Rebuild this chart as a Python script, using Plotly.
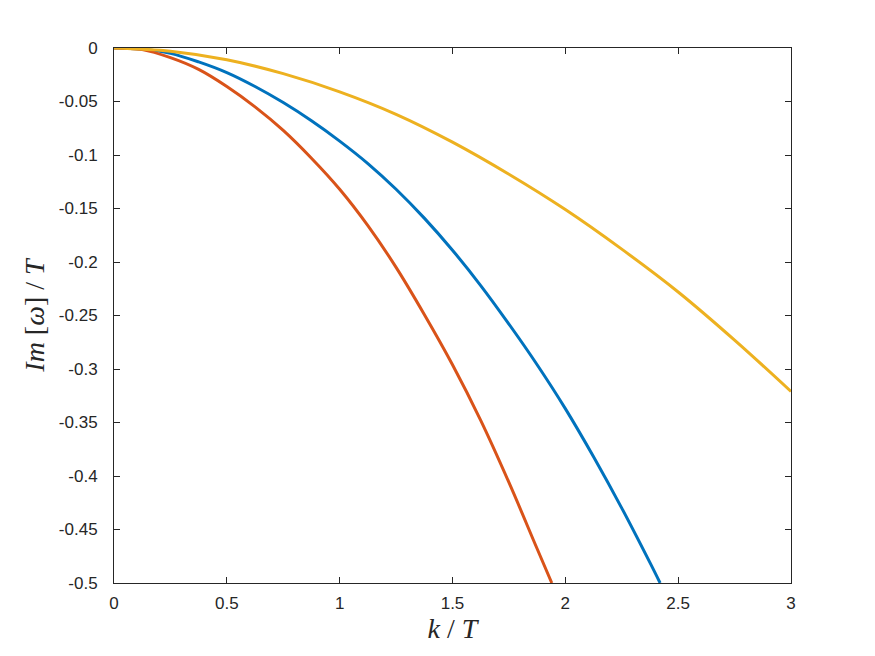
import plotly.graph_objects as go

# Data
k_blue = [0, 0.125, 0.25, 0.375, 0.5, 0.625, 0.75, 0.875, 1.0, 1.125, 1.25, 1.375,
          1.5, 1.625, 1.75, 1.875, 2.0, 2.125, 2.25, 2.375, 2.42]
im_blue = [0, -0.001, -0.005, -0.013, -0.023, -0.036, -0.051, -0.068, -0.087, -0.108,
           -0.132, -0.159, -0.189, -0.222, -0.258, -0.296, -0.337, -0.382, -0.430,
           -0.481, -0.500]

k_red = [0, 0.125, 0.25, 0.375, 0.5, 0.625, 0.75, 0.875, 1.0, 1.125, 1.25, 1.375,
         1.5, 1.625, 1.75, 1.875, 1.94]
im_red = [0, -0.0015, -0.009, -0.020, -0.036, -0.055, -0.077, -0.103, -0.132, -0.166,
          -0.205, -0.249, -0.296, -0.348, -0.406, -0.468, -0.500]

k_yellow = [0, 0.25, 0.5, 0.75, 1.0, 1.25, 1.5, 1.75, 2.0, 2.25, 2.5, 2.75, 3.0]
im_yellow = [0, -0.003, -0.011, -0.024, -0.041, -0.062, -0.088, -0.118, -0.151,
             -0.188, -0.228, -0.273, -0.321]

x_ticks = [0, 0.5, 1, 1.5, 2, 2.5, 3]
x_ticktext = ["0", "0.5", "1", "1.5", "2", "2.5", "3"]
y_ticks = [0, -0.05, -0.1, -0.15, -0.2, -0.25, -0.3, -0.35, -0.4, -0.45, -0.5]
y_ticktext = ["0", "-0.05", "-0.1", "-0.15", "-0.2", "-0.25", "-0.3", "-0.35", "-0.4",
              "-0.45", "-0.5"]

fig = go.Figure()
for kx, vy, col in [(k_blue, im_blue, "#0072BD"),
                    (k_red, im_red, "#D95319"),
                    (k_yellow, im_yellow, "#EDB120")]:
    fig.add_trace(go.Scatter(x=kx, y=vy, mode="lines",
                             line=dict(color=col, width=3, shape="spline", smoothing=1.0),
                             showlegend=False, cliponaxis=True))

axis_common = dict(showgrid=False, zeroline=False, showline=True, linecolor="#262626",
                   linewidth=1, mirror="ticks", ticks="inside", ticklen=6,
                   tickcolor="#262626", tickwidth=1,
                   tickfont=dict(family="Liberation Sans, Arial, sans-serif", size=17,
                                 color="#262626"))

title_font = dict(family="Liberation Serif, Times New Roman, serif", size=28, color="#262626")

fig.update_xaxes(range=[0, 3], tickvals=x_ticks, ticktext=x_ticktext,
                 ticklabelstandoff=5,
                 title=dict(text="<i>k</i> / <i>T</i>", standoff=4, font=title_font),
                 **axis_common)
fig.update_yaxes(range=[-0.5, 0], tickvals=y_ticks, ticktext=y_ticktext,
                 ticklabelstandoff=12,
                 title=dict(text="<i>Im</i> [<i>ω</i>] / <i>T</i>", standoff=6, font=title_font),
                 **axis_common)

fig.update_layout(width=875, height=656,
                  margin=dict(l=106, r=92, t=40, b=81, autoexpand=False),
                  paper_bgcolor="white", plot_bgcolor="white")

fig.write_html("out.html")
